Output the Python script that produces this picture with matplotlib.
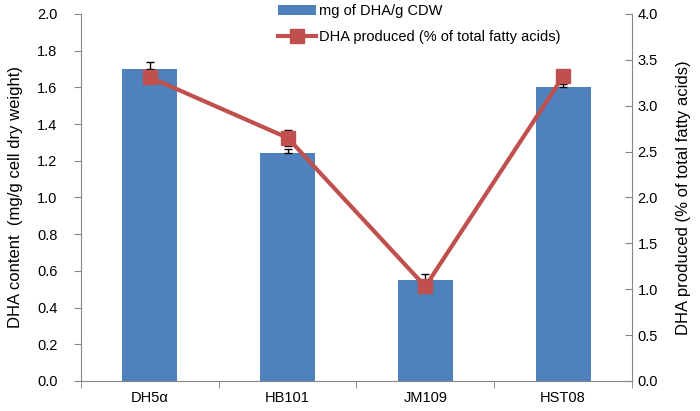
import numpy as np
import matplotlib
matplotlib.use('Agg')
import matplotlib.pyplot as plt
from matplotlib.ticker import FixedLocator

plt.rcParams['font.family'] = ['Liberation Sans', 'DejaVu Sans']

# data
strains = ['DH5\u03b1', 'HB101', 'JM109', 'HST08']
dha_content = [1.70, 1.24, 0.55, 1.60]
dha_content_err = [0.04, 0.025, 0.035, 0.02]
dha_percent = [3.31, 2.65, 1.03, 3.32]
dha_percent_err = [0.05, 0.09, 0.04, 0.04]

bar_col = '#4F81BD'
line_col = '#C0504D'
axis_col = '#868686'

fig = plt.figure(figsize=(7.0, 4.11), dpi=100)
ax = fig.add_axes([0.1157, 0.073, 0.7871, 0.893])
x = np.arange(len(strains))

bars = ax.bar(x, dha_content, width=0.4, color=bar_col, zorder=2,
              label='mg of DHA/g CDW')
ax.errorbar(x, dha_content, yerr=[np.zeros(4), dha_content_err], fmt='none',
            ecolor='black', elinewidth=1, capsize=3, zorder=3)
ax.set_xlim(-0.5, 3.5)
ax.set_ylim(0, 2.0)
left_ticks = np.arange(0, 2.01, 0.2)
ax.yaxis.set_major_locator(FixedLocator(left_ticks))
ax.set_yticklabels(['%.1f' % v for v in left_ticks])
ax.set_xticks(x)
ax.set_xticklabels(strains)
ax.xaxis.set_minor_locator(FixedLocator(np.arange(-0.5, 3.6, 1.0)))
ax.tick_params(axis='x', which='major', length=0, pad=7)
ax.tick_params(axis='x', which='minor', length=5, color=axis_col, direction='out')
ax.tick_params(axis='y', length=5, color=axis_col, direction='out', pad=12)
ax.tick_params(labelsize=10.5)
ax.set_ylabel('DHA content  (mg/g cell dry weight)', fontsize=12, labelpad=10)
for s in ['top', 'right']:
    ax.spines[s].set_visible(False)
for s in ['left', 'bottom']:
    ax.spines[s].set_color(axis_col)

ax2 = ax.twinx()
ax2.errorbar(x, dha_percent, yerr=dha_percent_err, fmt='none',
             ecolor='black', elinewidth=1, capsize=3, zorder=3)
line, = ax2.plot(x, dha_percent, color=line_col, lw=3, marker='s', ms=10,
                 zorder=4, label='DHA produced (% of total fatty acids)')
ax2.set_ylim(0, 4.0)
right_ticks = np.arange(0, 4.01, 0.5)
ax2.yaxis.set_major_locator(FixedLocator(right_ticks))
ax2.set_yticklabels(['%.1f' % v for v in right_ticks])
ax2.tick_params(axis='y', length=5, color=axis_col, direction='in', labelsize=10.5, pad=4)
ax2.set_ylabel('DHA produced (% of total fatty acids)', fontsize=12, labelpad=13)
ax2.spines['top'].set_visible(False)
ax2.spines['left'].set_visible(False)
ax2.spines['bottom'].set_visible(False)
ax2.spines['right'].set_color(axis_col)

fig.legend(handles=[bars, line], loc='upper left', bbox_to_anchor=(0.378, 1.022),
           frameon=False, fontsize=10.5, handlelength=2.6, labelspacing=0.85,
           handletextpad=0.2)

fig.savefig('out.png', dpi=100)
